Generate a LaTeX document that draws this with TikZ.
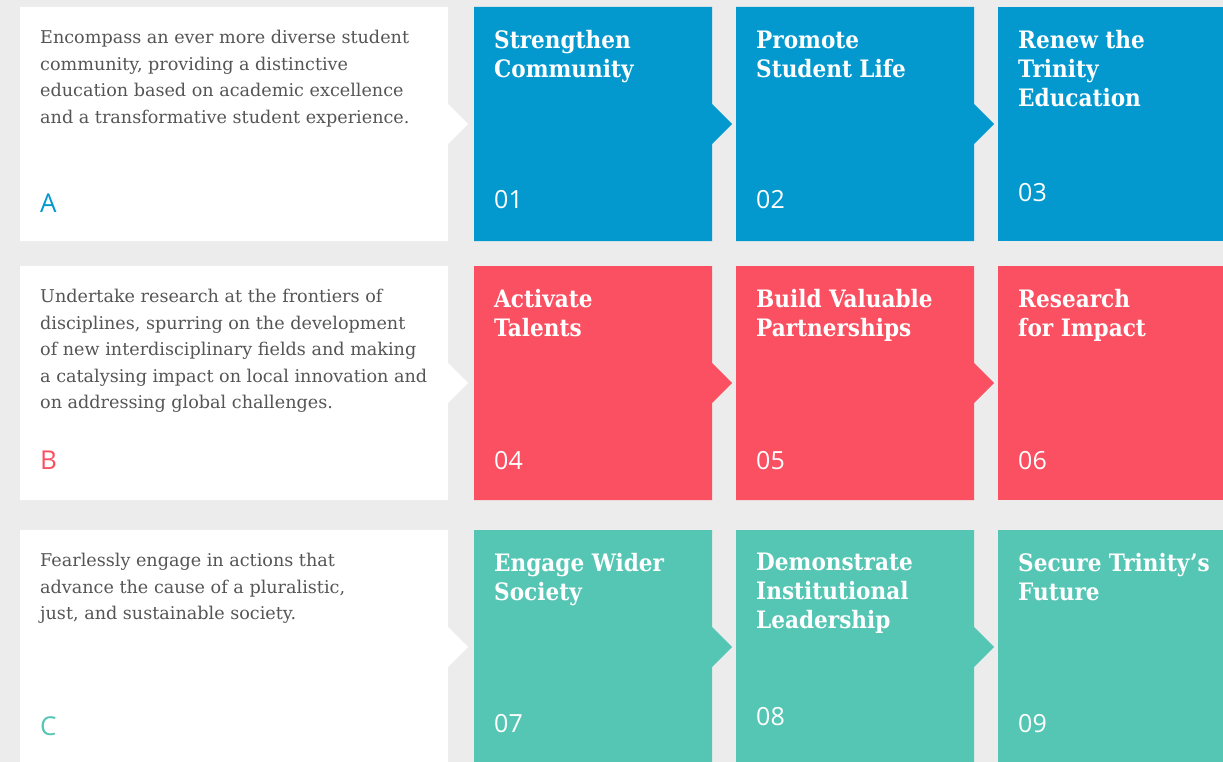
\documentclass[tikz,border=0pt]{standalone}
\usepackage{fontspec}
\setmainfont{DejaVu Serif Condensed}
\newfontfamily\bodyfont{DejaVu Serif}
\newfontfamily\numfont{Open Sans}
\usepackage{xcolor}
\usepackage{tikz}
\usetikzlibrary{positioning}
\definecolor{bggray}{HTML}{ECECEC}
\definecolor{textgray}{HTML}{555555}
\definecolor{aimblue}{HTML}{0399CF}
\definecolor{aimred}{HTML}{FA5061}
\definecolor{aimteal}{HTML}{56C6B4}

\begin{document}
\begin{tikzpicture}[x=1pt,y=-1pt,
    goal text/.style={anchor=north west,align=left,inner sep=0pt,text=textgray,font=\bodyfont\fontsize{17.6}{26.5}\selectfont},
    goal letter/.style={anchor=base west,inner sep=0pt,font=\numfont\fontsize{26}{26}\selectfont},
    tile title/.style={anchor=north west,align=left,inner sep=0pt,text=white,font=\bfseries\fontsize{24}{29}\selectfont},
    tile num/.style={anchor=base west,inner sep=0pt,text=white,font=\numfont\fontsize{25}{25}\selectfont}]
            \fill[bggray] (0,0) rectangle (1223,762);
            \useasboundingbox (0,0) rectangle (1223,762);

            % row A
            \fill[white] (20,7) -- (448,7) -- (448,104) -- (468,124) -- (448,144) -- (448,241) -- (20,241) -- cycle;
            \fill[aimblue] (474,7) -- (712,7) -- (712,104) -- (732,124) -- (712,144) -- (712,241) -- (474,241) -- cycle;
            \fill[aimblue] (736,7) -- (974,7) -- (974,104) -- (994,124) -- (974,144) -- (974,241) -- (736,241) -- cycle;
            \fill[aimblue] (998,7) rectangle (1223,241);

            % row B
            \fill[white] (20,266) -- (448,266) -- (448,363) -- (468,383) -- (448,403) -- (448,500) -- (20,500) -- cycle;
            \fill[aimred] (474,266) -- (712,266) -- (712,363) -- (732,383) -- (712,403) -- (712,500) -- (474,500) -- cycle;
            \fill[aimred] (736,266) -- (974,266) -- (974,363) -- (994,383) -- (974,403) -- (974,500) -- (736,500) -- cycle;
            \fill[aimred] (998,266) rectangle (1223,500);

            % row C
            \fill[white] (20,530) -- (448,530) -- (448,627) -- (468,647) -- (448,667) -- (448,764) -- (20,764) -- cycle;
            \fill[aimteal] (474,530) -- (712,530) -- (712,627) -- (732,647) -- (712,667) -- (712,764) -- (474,764) -- cycle;
            \fill[aimteal] (736,530) -- (974,530) -- (974,627) -- (994,647) -- (974,667) -- (974,764) -- (736,764) -- cycle;
            \fill[aimteal] (998,530) rectangle (1223,764);

            \node[goal text] (textA) at (40,30) {Encompass an ever more diverse student\\community, providing a distinctive\\education based on academic excellence\\and a transformative student experience.};
            \node[goal letter,text=aimblue] (letterA) at (40,212) {A};
            \node[goal text] (textB) at (40,289) {Undertake research at the frontiers of\\disciplines, spurring on the development\\of new interdisciplinary fields and making\\a catalysing impact on local innovation and\\on addressing global challenges.};
            \node[goal letter,text=aimred] (letterB) at (40,469) {B};
            \node[goal text] (textC) at (40,553) {Fearlessly engage in actions that\\advance the cause of a pluralistic,\\just, and sustainable society.};
            \node[goal letter,text=aimteal] (letterC) at (40,735) {C};

            \node[tile title] (title01) at (494,30) {Strengthen\\Community};
            \node[tile title] (title02) at (756,31) {Promote\\Student Life};
            \node[tile title] (title03) at (1018,30) {Renew the\\Trinity\\Education};
            \node[tile title] (title04) at (494,289) {Activate\\Talents};
            \node[tile title] (title05) at (756,289) {Build Valuable\\Partnerships};
            \node[tile title] (title06) at (1018,289) {Research\\for Impact};
            \node[tile title] (title07) at (494,553) {Engage Wider\\Society};
            \node[tile title] (title08) at (756,553) {Demonstrate\\Institutional\\Leadership};
            \node[tile title] (title09) at (1018,553) {Secure Trinity’s\\Future};

            \node[tile num] (num01) at (494,209) {01};
            \node[tile num] (num02) at (756,209) {02};
            \node[tile num] (num03) at (1018,201) {03};
            \node[tile num] (num04) at (494,469) {04};
            \node[tile num] (num05) at (756,469) {05};
            \node[tile num] (num06) at (1018,469) {06};
            \node[tile num] (num07) at (494,732) {07};
            \node[tile num] (num08) at (756,725) {08};
            \node[tile num] (num09) at (1018,732) {09};
        \end{tikzpicture}
\end{document}
